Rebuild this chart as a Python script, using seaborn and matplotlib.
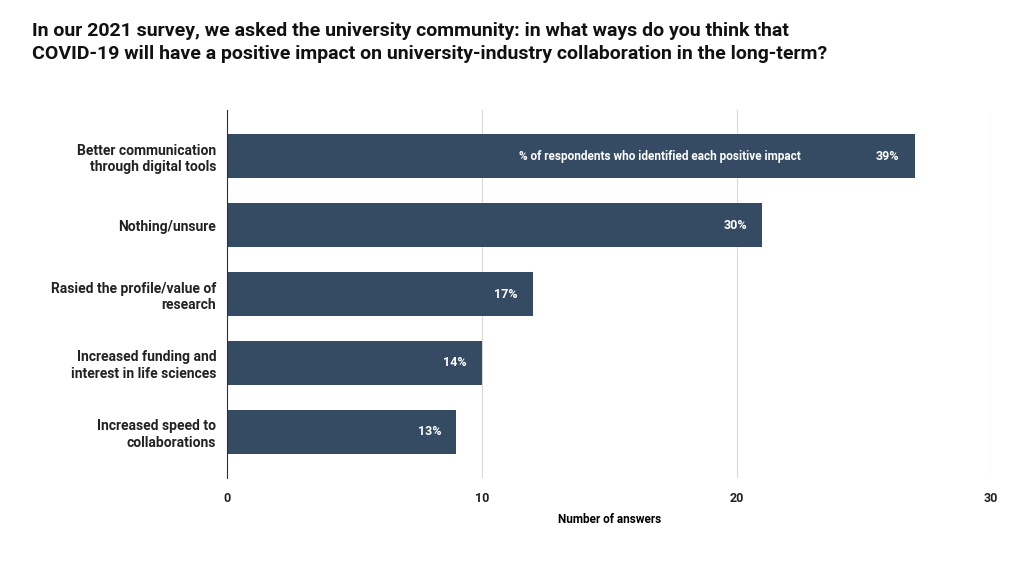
import matplotlib
matplotlib.use("Agg")
import matplotlib.pyplot as plt
import seaborn as sns
import pandas as pd

plt.rcParams["font.family"] = "Roboto"

categories = [
    "Better communication\nthrough digital tools",
    "Nothing/unsure",
    "Rasied the profile/value of\nresearch",
    "Increased funding and\ninterest in life sciences",
    "Increased speed to\ncollaborations",
]
answers = [27, 21, 12, 10, 9]
pct_labels = ["39%", "30%", "17%", "14%", "13%"]
ticks = [0, 10, 20, 30]

_BAR = "#344b63"
_GRID = "#d9d9d9"

df = pd.DataFrame({"category": categories, "answers": answers})

fig = plt.figure(figsize=(10.24, 5.76), dpi=100)
ax = fig.add_axes([0.222, 1 - 478 / 576, 0.968 - 0.222, 368 / 576])
sns.barplot(data=df, x="answers", y="category", color=_BAR, width=0.63, saturation=1, ax=ax)

ax.set_xlim(0, 30)
ax.set_ylim(4.67, -0.67)
ax.set_xticks(ticks)
ax.grid(True, axis="x", color=_GRID, linewidth=0.8)
ax.set_axisbelow(True)
for side in ("top", "right", "bottom"):
    ax.spines[side].set_visible(False)
ax.spines["left"].set_color("#333333")
ax.tick_params(length=0)
ax.tick_params(axis="y", labelsize=10, pad=8)
ax.tick_params(axis="x", labelsize=9, pad=10)
for lab in ax.get_yticklabels() + ax.get_xticklabels():
    lab.set_fontweight("bold")
    lab.set_color("#222222")
ax.set_ylabel("")
ax.set_xlabel("Number of answers", fontsize=8.5, fontweight="bold", labelpad=6)

for i, (v, p) in enumerate(zip(answers, pct_labels)):
    ax.text(v - 0.6, i, p, color="white", fontsize=9, fontweight="bold", ha="right", va="center")
ax.text(17, 0, "% of respondents who identified each positive impact", color="white",
        fontsize=8.5, fontweight="bold", ha="center", va="center")

fig.text(0.031, 0.89, "In our 2021 survey, we asked the university community: in what ways do you think that\n"
         "COVID-19 will have a positive impact on university-industry collaboration in the long-term?",
         fontsize=14, fontweight="bold", color="#111111", ha="left", va="bottom", linespacing=1.35)

fig.savefig("out.png", dpi=100, facecolor="white")
